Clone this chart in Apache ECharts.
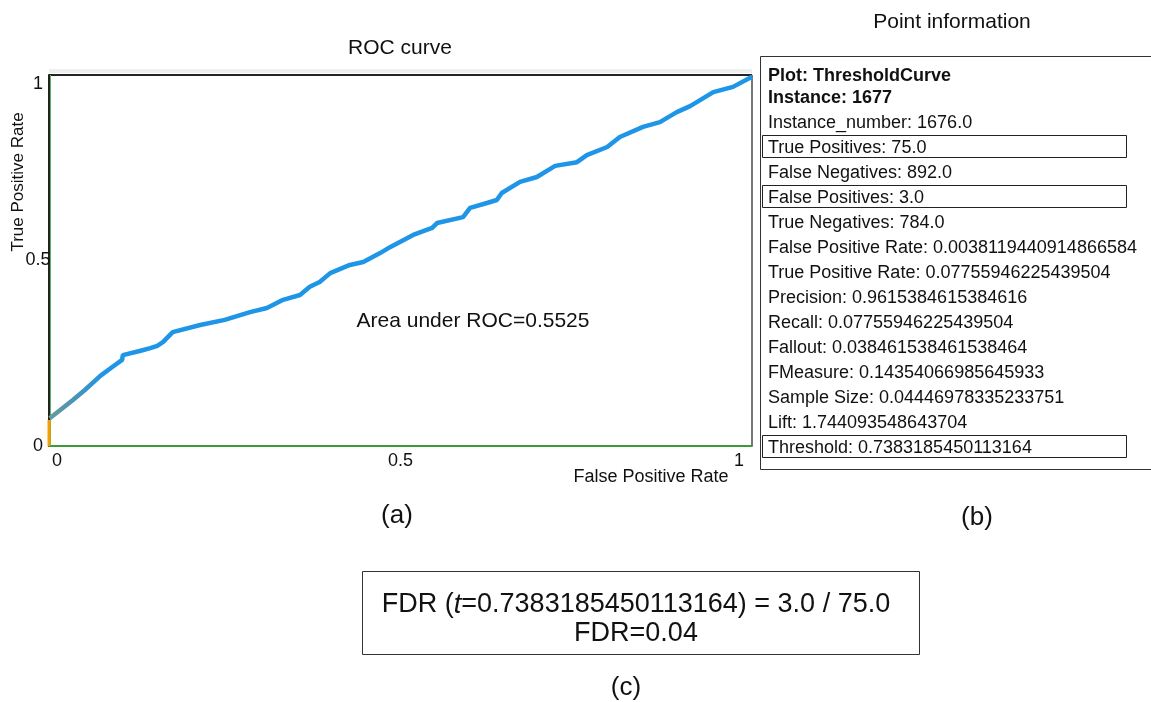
<!DOCTYPE html>
<html>
<head>
<meta charset="utf-8">
<script src="https://cdn.jsdelivr.net/npm/echarts@6/dist/echarts.min.js"></script>
<style>html,body{margin:0;padding:0;background:#fff}#c{width:1151px;height:702px}</style>
</head>
<body>
<div id="c"></div>
<script>
// ROC curve data
const fpr = [0.001,0.016,0.034,0.051,0.073,0.090,0.104,0.105,0.129,0.144,0.154,0.162,0.176,0.215,0.250,0.286,0.310,0.333,0.357,0.371,0.385,0.400,0.428,0.447,0.471,0.485,0.518,0.545,0.552,0.589,0.599,0.623,0.637,0.644,0.670,0.694,0.720,0.751,0.765,0.794,0.812,0.845,0.869,0.893,0.912,0.945,0.973,1.000];
const tpr = [0.075,0.097,0.124,0.151,0.189,0.213,0.232,0.245,0.256,0.264,0.270,0.280,0.307,0.326,0.340,0.361,0.372,0.394,0.407,0.429,0.442,0.466,0.488,0.496,0.520,0.536,0.569,0.588,0.601,0.617,0.642,0.655,0.663,0.682,0.712,0.725,0.755,0.765,0.784,0.806,0.833,0.860,0.873,0.900,0.916,0.954,0.968,0.995];
const startFpr = [0, 0];
const startTpr = [0, 0.07];
const axisTicks = [0, 0.5, 1];
const pointInfoBold = ["Plot: ThresholdCurve", "Instance: 1677"];
const pointInfo = [
  "Instance_number: 1676.0",
  "True Positives: 75.0",
  "False Negatives: 892.0",
  "False Positives: 3.0",
  "True Negatives: 784.0",
  "False Positive Rate: 0.0038119440914866584",
  "True Positive Rate: 0.07755946225439504",
  "Precision: 0.9615384615384616",
  "Recall: 0.07755946225439504",
  "Fallout: 0.038461538461538464",
  "FMeasure: 0.14354066985645933",
  "Sample Size: 0.04446978335233751",
  "Lift: 1.744093548643704",
  "Threshold: 0.7383185450113164"
];
const boxedRows = [1, 3, 13];
const aucText = "Area under ROC=0.5525";
const fdrThreshold = "0.7383185450113164";
const fdrFP = "3.0", fdrTP = "75.0", fdrValue = "0.04";

const FONT = "Liberation Sans, Arial, sans-serif";
const chart = echarts.init(document.getElementById('c'), null, {renderer: 'canvas'});

const graphics = [];
// frame lines of plot
graphics.push({type:'rect', shape:{x:49, y:69, width:703, height:4}, style:{fill:'#eeeeee'}, silent:true});
graphics.push({type:'line', shape:{x1:49, y1:75, x2:752, y2:75}, style:{stroke:'#222', lineWidth:2}});
graphics.push({type:'line', shape:{x1:752, y1:75, x2:752, y2:446}, style:{stroke:'#777', lineWidth:2}});
graphics.push({type:'line', shape:{x1:50.5, y1:75, x2:50.5, y2:446}, style:{stroke:'#5cb85c', lineWidth:1}});
// axis names and texts
graphics.push({type:'text', x:18, y:182, rotation:Math.PI/2, style:{text:'True Positive Rate', font:'17px '+FONT, fill:'#111', align:'center', verticalAlign:'middle'}});
graphics.push({type:'text', x:651, y:477, style:{text:'False Positive Rate', font:'18px '+FONT, fill:'#111', align:'center', verticalAlign:'middle'}});
graphics.push({type:'text', x:473, y:321, style:{text:aucText, font:'21px '+FONT, fill:'#111', align:'center', verticalAlign:'middle'}});
graphics.push({type:'text', x:952, y:22, style:{text:'Point information', font:'21px '+FONT, fill:'#111', align:'center', verticalAlign:'middle'}});
// panel
graphics.push({type:'rect', shape:{x:760.5, y:56.5, width:420, height:413}, style:{fill:'none', stroke:'#333', lineWidth:1}});
pointInfoBold.forEach((t,i)=>{
  graphics.push({type:'text', x:768, y:76 + i*22, style:{text:t, font:'bold 18px '+FONT, fill:'#111', align:'left', verticalAlign:'middle'}});
});
pointInfo.forEach((t,i)=>{
  const y = 123 + i*25;
  if (boxedRows.indexOf(i) >= 0) {
    graphics.push({type:'rect', shape:{x:762.5, y:y-12.5, width:364, height:22}, style:{fill:'none', stroke:'#222', lineWidth:1}});
  }
  graphics.push({type:'text', x:768, y:y, style:{text:t, font:'18px '+FONT, fill:'#111', align:'left', verticalAlign:'middle'}});
});
// subfigure labels
graphics.push({type:'text', x:397, y:516, style:{text:'(a)', font:'26px '+FONT, fill:'#111', align:'center', verticalAlign:'middle'}});
graphics.push({type:'text', x:977, y:518, style:{text:'(b)', font:'26px '+FONT, fill:'#111', align:'center', verticalAlign:'middle'}});
graphics.push({type:'text', x:626, y:688, style:{text:'(c)', font:'26px '+FONT, fill:'#111', align:'center', verticalAlign:'middle'}});
// FDR box
graphics.push({type:'rect', shape:{x:362.5, y:571.5, width:557, height:83}, style:{fill:'none', stroke:'#333', lineWidth:1}});
graphics.push({type:'text', x:636, y:605, style:{
  text:'{n|FDR (}{i|t}{n|=' + fdrThreshold + ') = ' + fdrFP + ' / ' + fdrTP + '}',
  rich:{n:{font:'27px '+FONT, fill:'#111'}, i:{font:'italic 27px '+FONT, fill:'#111'}},
  align:'center', verticalAlign:'middle'}});
graphics.push({type:'text', x:636, y:634, style:{text:'FDR=' + fdrValue, font:'27px '+FONT, fill:'#111', align:'center', verticalAlign:'middle'}});

chart.setOption({
  animation:false,
  backgroundColor:'#fff',
  title:{text:'ROC curve', left:395, top:33, textAlign:'center', textStyle:{fontFamily:FONT, fontSize:21, fontWeight:'normal', color:'#111'}},
  grid:{left:49, top:75, width:703, height:371, containLabel:false},
  xAxis:{type:'value', min:axisTicks[0], max:axisTicks[2], interval:axisTicks[1]-axisTicks[0],
    axisLine:{show:true, lineStyle:{color:'#3a9a3a', width:2}},
    axisTick:{show:false}, splitLine:{show:false},
    axisLabel:{fontFamily:FONT, fontSize:18, color:'#111', margin:6, alignMinLabel:'left', alignMaxLabel:'right',
      formatter:v=> v===axisTicks[0] ? '{l|'+v+'}' : (v===axisTicks[2] ? '{r|'+v+'}' : String(v)),
      rich:{l:{fontFamily:FONT, fontSize:18, color:'#111', padding:[0,0,0,3]}, r:{fontFamily:FONT, fontSize:18, color:'#111', padding:[0,8,0,0]}}}},
  yAxis:{type:'value', min:axisTicks[0], max:axisTicks[2], interval:axisTicks[1]-axisTicks[0],
    axisLine:{show:true, onZero:false, lineStyle:{color:'#222', width:2}},
    axisTick:{show:false}, splitLine:{show:false},
    axisLabel:{fontFamily:FONT, fontSize:18, color:'#111', margin:11, align:'center', verticalAlignMaxLabel:'top',
      formatter:v=>String(v)}},
  series:[
    {type:'line', data:fpr.map((x,i)=>[x,tpr[i]]), showSymbol:false, smooth:false,
      lineStyle:{width:4.5, color:new echarts.graphic.LinearGradient(0,0,1,0,[
        {offset:0, color:'#6e9a98'},{offset:0.04, color:'#4a93b8'},{offset:0.08, color:'#1f95e8'},{offset:1, color:'#1f95e8'}])}, z:3},
    {type:'line', data:startFpr.map((x,i)=>[x,startTpr[i]]), showSymbol:false,
      lineStyle:{width:3, color:'#f5a000'}, z:4}
  ],
  graphic:graphics
});
</script>
</body>
</html>
